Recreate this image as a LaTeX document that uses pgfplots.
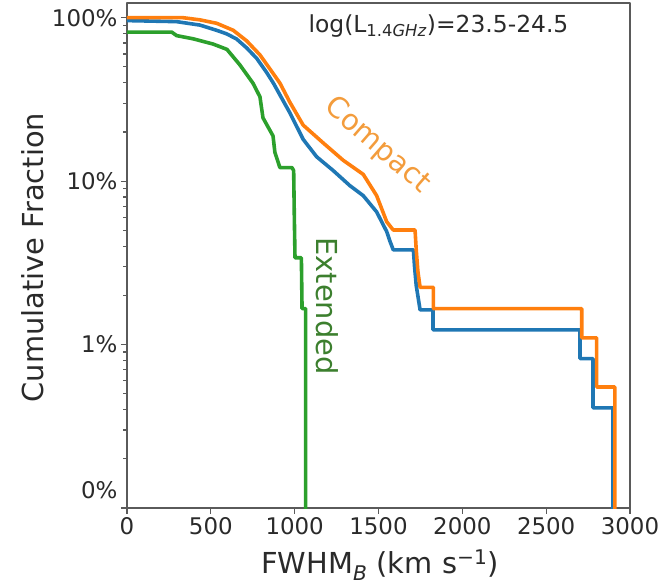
\documentclass[border=0pt]{standalone}
\usepackage{fontspec}
\setmainfont{DejaVu Sans}
\usepackage{pgfplots}
\pgfplotsset{compat=1.18}
\definecolor{mplblue}{HTML}{1F77B4}
\definecolor{mplorange}{HTML}{FF7F0E}
\definecolor{mplgreen}{HTML}{2CA02C}
\definecolor{cmptxt}{HTML}{F39C3C}
\definecolor{exttxt}{HTML}{3C7F2E}
\definecolor{axgray}{HTML}{5A5A5A}
\definecolor{txtgray}{HTML}{2A2A2A}
\begin{document}
\begin{tikzpicture}
\useasboundingbox (-127bp,-80bp) rectangle (537bp,508bp);
\begin{axis}[
  at={(0,0)}, anchor=south west,
  scale only axis, width=503bp, height=505bp,
  xmin=0, xmax=3000, ymode=log, ymin=0.1, ymax=123,
  xtick={0,500,1000,1500,2000,2500,3000},
  xticklabels={0,500,1000,1500,2000,2500,3000},
  ytick={1,10,100}, yticklabels={1\%,10\%,100\%},
  extra y ticks={0.1}, extra y tick labels={0\%},
  extra y tick style={yticklabel style={yshift=18bp}},
  minor ytick={0.2,0.3,0.4,0.5,0.6,0.7,0.8,0.9,2,3,4,5,6,7,8,9,20,30,40,50,60,70,80,90},
  tick align=outside, tick pos=left,
  major tick length=6bp, minor tick length=3.5bp,
  every tick/.style={axgray, line width=1.2bp},
  axis line style={axgray, line width=1.4bp},
  tick label style={text=txtgray, font=\fontsize{23}{23}\selectfont},
  xlabel={FWHM\textsubscript{\textit{B}} (km s\textsuperscript{−1})},
  ylabel={Cumulative Fraction},
  label style={text=txtgray, font=\fontsize{29}{29}\selectfont},
  xlabel style={at={(axis description cs:0.503,-0.113)}, anchor=center},
  ylabel style={at={(axis description cs:-0.187,0.496)}, anchor=center, rotate=0},
  line join=round,
]
% Compact+Extended (blue)
\addplot[mplblue, line width=3.6bp] coordinates {
(0,96) (296,94.6) (435,90.1) (535,83.7) (595,79.6) (654,74) (714,65.3) (774,56.3)
(833,46.2) (873,39.8) (972,26.1) (1051,18) (1131,14.1) (1230,11.6) (1330,9.37)
(1409,8.15) (1489,6.48) (1549,4.91) (1569,4.27) (1588,3.80) (1708,3.80) (1715,3.0)
(1725,2.3) (1748,1.63) (1825,1.63) (1825,1.23) (2702,1.23) (2702,0.82) (2779,0.82)
(2779,0.41) (2898,0.41) (2898,0.01)};
% Compact (orange)
\addplot[mplorange, line width=3.6bp] coordinates {
(0,100) (334,100) (435,97) (535,92.4) (634,83.7) (714,72.1) (793,59.2) (853,48.5)
(912,39.8) (972,30.3) (1051,22) (1171,17.1) (1290,13.4) (1409,11) (1489,8.15)
(1549,5.64) (1588,5.02) (1718,5.02) (1725,3.8) (1735,2.8) (1748,2.24) (1827,2.24)
(1827,1.66) (2712,1.66) (2712,1.10) (2801,1.10) (2801,0.55) (2910,0.55) (2910,0.01)};
% Extended (green)
\addplot[mplgreen, line width=3.6bp] coordinates {
(0,81.6) (267,81.6) (296,77.7) (394,74.3) (513,69) (596,64) (674,51.3) (751,39.8)
(793,32.8) (811,24.4) (871,18.9) (882,15) (912,12.1) (984,12.1) (994,11.6) (998,6)
(1002,3.4) (1040,3.4) (1044,1.66) (1065,1.66) (1065,0.01)};
\node[anchor=base west, text=txtgray, font=\fontsize{23.5}{23.5}\selectfont]
  at (axis description cs:0.354,0.941) {log(L\textsubscript{1.4\textit{GHz}})=23.5-24.5};
\node[rotate=-41, text=cmptxt, font=\fontsize{29}{29}\selectfont]
  at (axis description cs:0.497,0.718) {Compact};
\node[rotate=-90, text=exttxt, font=\fontsize{29}{29}\selectfont]
  at (axis description cs:0.398,0.40) {Extended};
\end{axis}
\end{tikzpicture}
\end{document}
